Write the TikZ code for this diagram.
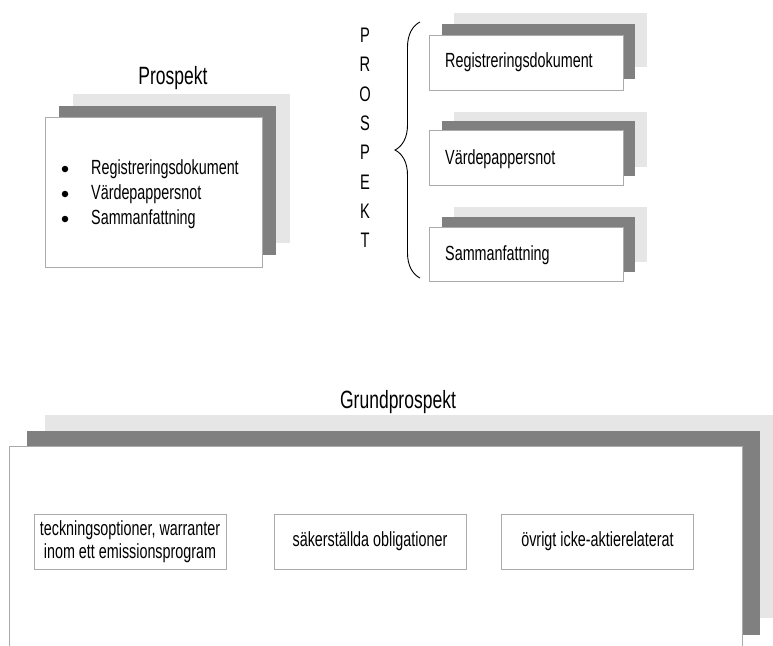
\documentclass[tikz,border=0pt]{standalone}
\usepackage{fontspec}
\setmainfont{Liberation Sans}[FakeStretch=0.7]
\usetikzlibrary{decorations.pathreplacing}
\definecolor{pagelight}{HTML}{E6E6E6}
\definecolor{pagedark}{HTML}{808080}
\definecolor{rim}{HTML}{ABABAB}

\begin{document}
\begin{tikzpicture}[x=1pt,y=-1pt,
	sheet/.style={draw=rim,line width=1pt,fill=white},
	item/.style={font=\fontsize{20.5}{23}\selectfont},
	dot/.style={circle,fill=black,inner sep=0pt,minimum size=6.5pt},
	heading/.style={font=\fontsize{25}{30}\selectfont}]
\useasboundingbox (0,0) rectangle (773,645);
% left stack
\fill[pagelight] (73,94) rectangle (290,243);
\fill[pagedark] (59,106) rectangle (276,255);
\node[sheet,minimum width=217pt,minimum height=150pt] (leftsheet) at (153.5,192) {};
\node[heading] (prospekt) at (173,78) {Prospekt};
\node[item,anchor=west,inner sep=0pt] (lreg) at (91,169) {Registreringsdokument};
\node[item,anchor=west,inner sep=0pt] (lvard) at (91,194) {Värdepappersnot};
\node[item,anchor=west,inner sep=0pt] (lsamm) at (91,219) {Sammanfattning};
\node[dot] (d1) at (65,169) {};
\node[dot] (d2) at (65,194) {};
\node[dot] (d3) at (65,219) {};
% letters and brace
\node[align=center,font=\fontsize{21}{29.3}\selectfont] (letters) at (365,138) {P\\R\\O\\S\\P\\E\\K\\T};
\draw[line width=0.9pt,decorate,decoration={brace,amplitude=25pt}] (420,278) -- (420,22);
% right stacks
\fill[pagelight] (454,13) rectangle (647,67);
\fill[pagedark] (442,24) rectangle (635,79);
\node[sheet,minimum width=194pt,minimum height=55pt] (regbox) at (526,62.5) {};
\node[item,anchor=west,inner sep=0pt] (reg) at (445,62.5) {Registreringsdokument};
\fill[pagelight] (454,112) rectangle (647,167);
\fill[pagedark] (442,121) rectangle (635,176);
\node[sheet,minimum width=194pt,minimum height=55pt] (vardbox) at (526,158) {};
\node[item,anchor=west,inner sep=0pt] (vard) at (445,159) {Värdepappersnot};
\fill[pagelight] (454,207) rectangle (647,262);
\fill[pagedark] (442,217) rectangle (635,272);
\node[sheet,minimum width=194pt,minimum height=54pt] (sammbox) at (526,254) {};
\node[item,anchor=west,inner sep=0pt] (samm) at (445,255) {Sammanfattning};
% base stack
\node[heading] (grund) at (398,402) {Grundprospekt};
\fill[pagelight] (45,415) rectangle (790,618);
\fill[pagedark] (27,431) rectangle (760,635);
\draw[sheet] (9,680) -- (9,446) -- (742,446) -- (742,680);
\node[sheet,item,align=center,minimum width=192pt,minimum height=55pt] (teck) at (130,541.5)
	{teckningsoptioner, warranter\\inom ett emissionsprogram};
\node[sheet,item,minimum width=192pt,minimum height=55pt] (saker) at (370,541.5) {säkerställda obligationer};
\node[sheet,item,minimum width=192pt,minimum height=55pt] (ovrigt) at (597.5,541.5) {övrigt icke-aktierelaterat};
\end{tikzpicture}
\end{document}
